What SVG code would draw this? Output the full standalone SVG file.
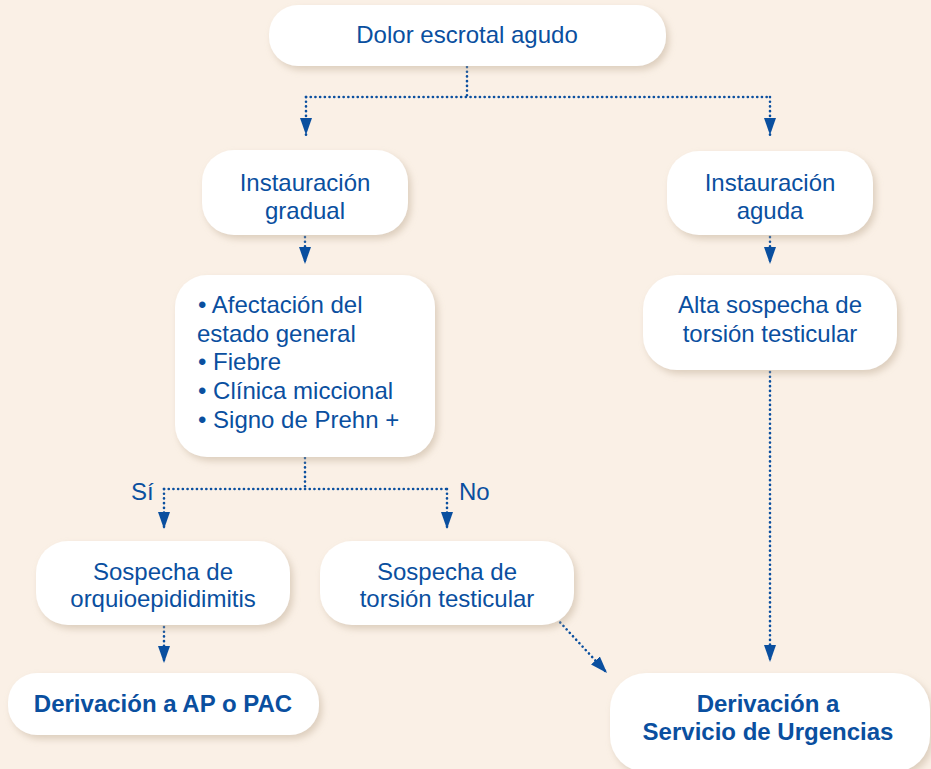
<svg xmlns="http://www.w3.org/2000/svg" width="931" height="769" viewBox="0 0 931 769">
  <defs>
    <filter id="sh" x="-10%" y="-20%" width="125%" height="150%">
      <feDropShadow dx="3" dy="4" stdDeviation="3.5" flood-color="#b8a48c" flood-opacity="0.45"/>
    </filter>
    <marker id="ah" viewBox="0 0 17 12" refX="17" refY="6" markerWidth="17" markerHeight="12" markerUnits="userSpaceOnUse" orient="auto">
      <path d="M0,0 L17,6 L0,12 Z" fill="#0a4f9f"/>
    </marker>
    <style>
      .node { fill: #ffffff; filter: url(#sh); }
      .t { font-family: "Liberation Sans", Arial, sans-serif; font-size: 24px; fill: #0a4f9f; }
      .c { text-anchor: middle; }
      .b { font-weight: bold; }
      .dot { fill: none; stroke: #0a4f9f; stroke-width: 2.6; stroke-linecap: round; stroke-dasharray: 0.1 4.6; }
    </style>
  </defs>
  <rect x="0" y="0" width="931" height="769" fill="#faf0e6"/>

  <g id="connectors">
    <path class="dot" d="M467,67 V97"/>
    <path class="dot" d="M306,97 H770"/>
    <path class="dot" d="M306,97 V135" marker-end="url(#ah)"/>
    <path class="dot" d="M770,97 V135" marker-end="url(#ah)"/>
    <path class="dot" d="M305,237 V264" marker-end="url(#ah)"/>
    <path class="dot" d="M770,237 V264" marker-end="url(#ah)"/>
    <path class="dot" d="M305,458 V489"/>
    <path class="dot" d="M164,489 H447"/>
    <path class="dot" d="M164,489 V529" marker-end="url(#ah)"/>
    <path class="dot" d="M447,489 V529" marker-end="url(#ah)"/>
    <path class="dot" d="M164,627 V663" marker-end="url(#ah)"/>
    <path class="dot" d="M770,372 V662" marker-end="url(#ah)"/>
    <path class="dot" d="M557,619 L607,673" marker-end="url(#ah)"/>
    <text class="t" x="131" y="500">Sí</text>
    <text class="t" x="459" y="500">No</text>
  </g>

  <g id="n-dolor">
    <rect class="node" x="269" y="5" width="397" height="61" rx="29"/>
    <text class="t c" x="467" y="43">Dolor escrotal agudo</text>
  </g>

  <g id="n-gradual">
    <rect class="node" x="202" y="150" width="206" height="85" rx="32"/>
    <text class="t c" x="305" y="191">Instauración</text>
    <text class="t c" x="305" y="219">gradual</text>
  </g>

  <g id="n-aguda">
    <rect class="node" x="667" y="151" width="206" height="84" rx="32"/>
    <text class="t c" x="770" y="191">Instauración</text>
    <text class="t c" x="770" y="219">aguda</text>
  </g>

  <g id="n-criterios">
    <rect class="node" x="175" y="275" width="260" height="182" rx="32"/>
    <text class="t" x="198" y="313">• Afectación del</text>
    <text class="t" x="197" y="342">estado general</text>
    <text class="t" x="198" y="370">• Fiebre</text>
    <text class="t" x="198" y="399">• Clínica miccional</text>
    <text class="t" x="198" y="428">• Signo de Prehn +</text>
  </g>

  <g id="n-alta">
    <rect class="node" x="643" y="275" width="254" height="95" rx="34"/>
    <text class="t c" x="770" y="313">Alta sospecha de</text>
    <text class="t c" x="770" y="342">torsión testicular</text>
  </g>

  <g id="n-orq">
    <rect class="node" x="36" y="541" width="254" height="84" rx="32"/>
    <text class="t c" x="163" y="580">Sospecha de</text>
    <text class="t c" x="163" y="607">orquioepididimitis</text>
  </g>

  <g id="n-torsion">
    <rect class="node" x="320" y="541" width="254" height="84" rx="32"/>
    <text class="t c" x="447" y="580">Sospecha de</text>
    <text class="t c" x="447" y="607">torsión testicular</text>
  </g>

  <g id="n-ap">
    <rect class="node" x="8" y="673" width="311" height="62" rx="29"/>
    <text class="t c b" x="163" y="712">Derivación a AP o PAC</text>
  </g>

  <g id="n-urgencias">
    <rect class="node" x="610" y="673" width="320" height="99" rx="36"/>
    <text class="t c b" x="768" y="712">Derivación a</text>
    <text class="t c b" x="768" y="740">Servicio de Urgencias</text>
  </g>
</svg>
